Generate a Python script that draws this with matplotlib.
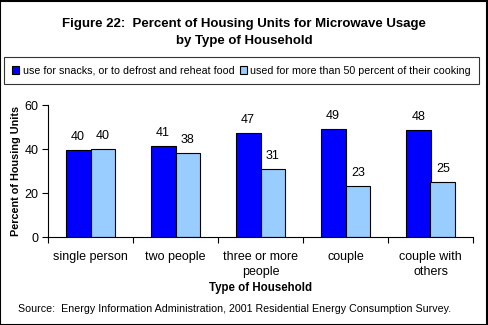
import numpy as np
import matplotlib.pyplot as plt
from matplotlib.patches import Rectangle

plt.rcParams['font.family'] = ['Liberation Sans', 'DejaVu Sans']

categories = ['single person', 'two people', 'three or more\npeople', 'couple', 'couple with\nothers']
snacks = [39.4, 41.2, 47.1, 49.0, 48.5]
cooking = [39.9, 38.0, 30.8, 23.0, 24.9]
snacks_labels = ['40', '41', '47', '49', '48']
cooking_labels = ['40', '38', '31', '23', '25']

fig = plt.figure(figsize=(4.88, 3.25), dpi=100)
ax = fig.add_axes([48 / 488, 1 - 237 / 325, 425 / 488, 132 / 325])

x = np.arange(len(categories))
w = 0.29
b1 = ax.bar(x - w / 2, snacks, w, color='#0000FF', edgecolor='black', linewidth=0.8,
            label='use for snacks, or to defrost and reheat food')
b2 = ax.bar(x + w / 2, cooking, w, color='#99CCFF', edgecolor='black', linewidth=0.8,
            label='used for more than 50 percent of their cooking')

for xi, v, t in zip(x - w / 2, snacks, snacks_labels):
    ax.text(xi, v + 3.2, t, ha='center', va='bottom', fontsize=9)
for xi, v, t in zip(x + w / 2, cooking, cooking_labels):
    ax.text(xi, v + 3.2, t, ha='center', va='bottom', fontsize=9)

ax.set_xlim(-0.5, len(categories) - 0.5)
ax.set_ylim(0, 60)
ax.set_yticks([0, 20, 40, 60])
ax.tick_params(axis='y', labelsize=9, length=4, width=0.8, pad=3)
ax.set_xticks(np.arange(-0.5, len(categories), 1.0))
ax.set_xticklabels([])
ax.set_xticks(x, minor=True)
ax.set_xticklabels(categories, minor=True, fontsize=9, linespacing=1.3)
ax.tick_params(axis='x', which='major', length=4, width=0.8)
ax.tick_params(axis='x', which='minor', length=0, pad=10)
for s in ['top', 'right']:
    ax.spines[s].set_visible(False)
ax.set_ylabel('Percent of Housing Units', fontsize=7.8, fontweight='bold', labelpad=2)
ax.set_xlabel('Type of Household', fontsize=8.3, fontweight='bold', labelpad=3)

fig.text(0.5, 1 - 24 / 325, 'Figure 22:  Percent of Housing Units for Microwave Usage',
         ha='center', va='center', fontsize=9.5, fontweight='bold')
fig.text(0.5, 1 - 41 / 325, 'by Type of Household',
         ha='center', va='center', fontsize=9.5, fontweight='bold')

leg = fig.legend(handles=[b1, b2], loc='center', bbox_to_anchor=(241.5 / 488, 1 - 70.5 / 325),
                 ncol=2, fontsize=7.7, frameon=True, fancybox=False, edgecolor='black',
                 handlelength=0.7, handleheight=0.7, handletextpad=0.3, columnspacing=0.5,
                 borderpad=0.75, borderaxespad=0)
leg.get_frame().set_linewidth(0.8)

fig.text(18 / 488, 1 - 309 / 325,
         'Source:  Energy Information Administration, 2001 Residential Energy Consumption Survey.',
         ha='left', va='center', fontsize=7.7)

fig.add_artist(Rectangle((0.001, 0.001), 0.997, 0.997, transform=fig.transFigure,
                         fill=False, edgecolor='black', linewidth=1.5))

fig.savefig('out.png', dpi=100)
